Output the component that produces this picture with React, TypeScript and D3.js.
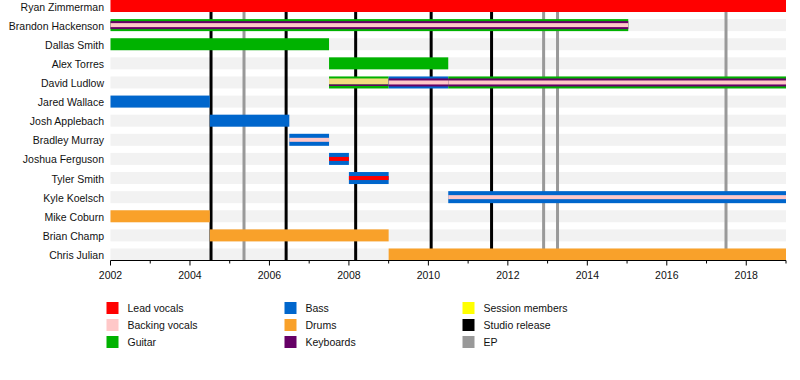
import React from "react";
import * as d3 from "d3";

const members = [
  "Ryan Zimmerman",
  "Brandon Hackenson",
  "Dallas Smith",
  "Alex Torres",
  "David Ludlow",
  "Jared Wallace",
  "Josh Applebach",
  "Bradley Murray",
  "Joshua Ferguson",
  "Tyler Smith",
  "Kyle Koelsch",
  "Mike Coburn",
  "Brian Champ",
  "Chris Julian",
];

const roleColors: Record<string, string> = {
  lead: "#ff0000",
  backing: "#ffc8c8",
  guitar: "#00b200",
  bass: "#0066cc",
  drums: "#f9a12a",
  keys: "#660066",
  session: "#f3dd80",
  studio: "#000000",
  ep: "#999999",
};

// member, start, end, roles from outer to inner
const stintMember = [
  "Ryan Zimmerman",
  "Brandon Hackenson",
  "Dallas Smith",
  "Alex Torres",
  "David Ludlow",
  "David Ludlow",
  "David Ludlow",
  "Jared Wallace",
  "Josh Applebach",
  "Bradley Murray",
  "Joshua Ferguson",
  "Tyler Smith",
  "Kyle Koelsch",
  "Mike Coburn",
  "Brian Champ",
  "Chris Julian",
];
const stintStart = [2002, 2002, 2002, 2007.5, 2007.5, 2009, 2010.5, 2002, 2004.5, 2006.5, 2007.5, 2008, 2010.5, 2002, 2004.5, 2009];
const stintEnd = [2019, 2015.03, 2007.5, 2010.5, 2009, 2010.5, 2019, 2004.5, 2006.5, 2007.5, 2008, 2009, 2019, 2004.5, 2009, 2019];
const stintRoles = [
  ["lead"],
  ["guitar", "keys", "backing"],
  ["guitar"],
  ["guitar"],
  ["guitar", "session"],
  ["bass", "keys", "backing"],
  ["guitar", "keys", "backing"],
  ["bass"],
  ["bass"],
  ["bass", "", "backing"],
  ["bass", "", "lead"],
  ["bass", "", "lead"],
  ["bass", "", "backing"],
  ["drums"],
  ["drums"],
  ["drums"],
];

const studioReleases = [2004.53, 2006.42, 2008.17, 2010.07, 2011.59];
const epReleases = [2005.36, 2012.9, 2013.25, 2017.49];

const tickYears = [2002, 2004, 2006, 2008, 2010, 2012, 2014, 2016, 2018];
const minorYears = [2003, 2005, 2007, 2009, 2011, 2013, 2015, 2017];

const legendLabels = [
  "Lead vocals",
  "Backing vocals",
  "Guitar",
  "Bass",
  "Drums",
  "Keyboards",
  "Session members",
  "Studio release",
  "EP",
];
const legendKeys = ["lead", "backing", "guitar", "bass", "drums", "keys", "sessionLegend", "studio", "ep"];

export default function App() {
  const W = 800;
  const H = 380;
  const x = d3.scaleLinear().domain([2002, 2019]).range([110.5, 786]);
  const y = d3.scalePoint<string>().domain(members).range([6, 254.5]);
  const axisY = 260.5;
  const font = "'Liberation Sans', Arial, sans-serif";
  const layerH = [12, 8, 4];
  const fs = 10.5;
  const txt = "#111";

  return (
    <svg
      width={W}
      height={H}
      style={{ position: "absolute", left: 0, top: 0, background: "#fff" }}
      fontFamily={font}
    >
      {/* background stripes */}
      {members.map((m) => (
        <rect key={"bg" + m} x={x(2002)} width={x(2019) - x(2002)} y={(y(m) as number) - 6} height={12} fill="#f2f2f2" />
      ))}
      {/* release lines */}
      {epReleases.map((d, i) => (
        <line key={"ep" + i} x1={x(d)} x2={x(d)} y1={0} y2={axisY} stroke={roleColors.ep} strokeWidth={3} />
      ))}
      {studioReleases.map((d, i) => (
        <line key={"st" + i} x1={x(d)} x2={x(d)} y1={0} y2={axisY} stroke={roleColors.studio} strokeWidth={3} />
      ))}
      {/* bars */}
      {stintMember.map((m, i) => {
        const cy = y(m) as number;
        return (
          <g key={"s" + i}>
            {stintRoles[i].map((r, j) =>
              r ? (
                <rect
                  key={j}
                  x={x(stintStart[i])}
                  width={x(stintEnd[i]) - x(stintStart[i])}
                  y={r === "session" ? cy - 4 : cy - layerH[j] / 2}
                  height={r === "session" ? 6 : layerH[j]}
                  fill={roleColors[r]}
                />
              ) : null
            )}
            {stintRoles[i].includes("session") && (
              <rect
                x={x(stintStart[i])}
                width={x(stintEnd[i]) - x(stintStart[i])}
                y={cy + 2}
                height={1.5}
                fill={roleColors.keys}
              />
            )}
          </g>
        );
      })}
      {/* row labels */}
      {members.map((m) => (
        <text key={"l" + m} x={104} y={(y(m) as number) + 4.5} textAnchor="end" fontSize={fs} fill={txt}>
          {m}
        </text>
      ))}
      {/* axis */}
      <line x1={x(2002)} x2={x(2019)} y1={axisY} y2={axisY} stroke="#000" strokeWidth={1} />
      {tickYears.map((t) => (
        <g key={"t" + t}>
          <line x1={x(t)} x2={x(t)} y1={axisY} y2={axisY + 5} stroke="#000" />
          <text x={x(t)} y={axisY + 18} textAnchor="middle" fontSize={fs} fill={txt}>
            {t}
          </text>
        </g>
      ))}
      {minorYears.map((t) => (
        <line key={"m" + t} x1={x(t)} x2={x(t)} y1={axisY} y2={axisY + 3} stroke="#000" />
      ))}
      <line x1={x(2019)} x2={x(2019)} y1={axisY} y2={axisY + 3} stroke="#000" />
      {/* legend */}
      {legendLabels.map((lab, i) => {
        const col = Math.floor(i / 3);
        const row = i % 3;
        const sx = [106.5, 284.5, 462.5][col];
        const sy = 302 + row * 17;
        const key = legendKeys[i];
        const color = key === "sessionLegend" ? "#ffff00" : roleColors[key];
        return (
          <g key={"lg" + i}>
            <rect x={sx} y={sy} width={12} height={12} fill={color} />
            <text x={sx + 21} y={sy + 10} fontSize={fs} fill={txt}>
              {lab}
            </text>
          </g>
        );
      })}
    </svg>
  );
}
